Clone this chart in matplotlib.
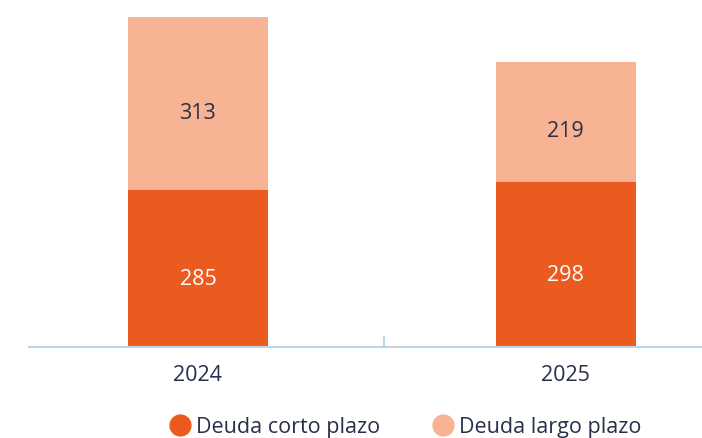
import matplotlib
matplotlib.use("Agg")
from matplotlib import pyplot as plt
from matplotlib.lines import Line2D

years = ["2024", "2025"]
corto = [285, 298]
largo = [313, 219]
series_names = ["Deuda corto plazo", "Deuda largo plazo"]

dark = "#EB5B1F"
light = "#F7B393"
text_col = "#28304A"
axis_col = "#BBD5E9"

plt.rcParams["font.family"] = ["Open Sans", "DejaVu Sans"]

fig = plt.figure(figsize=(7.02, 4.38), dpi=100)
ax = fig.add_axes([29 / 702, 1 - 346.5 / 438, 673 / 702, 346.5 / 438])

x = list(range(len(years)))
w = 0.38
ax.bar(x, corto, width=w, color=dark, zorder=2)
ax.bar(x, largo, width=w, bottom=corto, color=light, zorder=2)

# labels sit a bit below the middle of each segment
for i in x:
    ax.annotate(str(corto[i]), (i, corto[i] / 2), xytext=(0, -8), textcoords="offset points",
                ha="center", va="center", color="white", fontsize=15.5)
    ax.annotate(str(largo[i]), (i, corto[i] + largo[i] / 2), xytext=(0, -7),
                textcoords="offset points", ha="center", va="center",
                color=text_col, fontsize=15.5)

ax.set_xlim(-0.459, 1.37)
ax.set_ylim(0, 629)
for s in ["top", "right", "left"]:
    ax.spines[s].set_visible(False)
ax.spines["bottom"].set_color(axis_col)
ax.spines["bottom"].set_linewidth(1.5)
ax.set_yticks([])
ax.set_xticks([0.505], minor=True)
ax.tick_params(axis="x", which="minor", length=8, width=1.5, color=axis_col, direction="in")
ax.set_xticks(x)
ax.set_xticklabels(years)
ax.tick_params(axis="x", which="major", length=0, pad=13, labelsize=15.5, labelcolor=text_col)

handles = [Line2D([], [], marker="o", linestyle="none", markersize=15,
                  markerfacecolor=c, markeredgecolor=c) for c in [dark, light]]
fig.legend(handles, series_names, loc="center", bbox_to_anchor=(404 / 702, 1 - 427 / 438),
           ncol=2, frameon=False, fontsize=15.5, labelcolor=text_col,
           handletextpad=0.15, columnspacing=2.3, handlelength=1.2)

fig.savefig("out.png", dpi=100)
